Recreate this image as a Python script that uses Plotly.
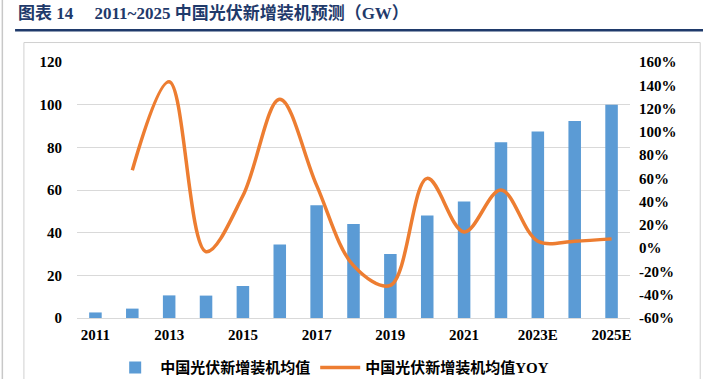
import plotly.graph_objects as go

years = ["2011", "2012", "2013", "2014", "2015", "2016", "2017", "2018",
         "2019", "2020", "2021", "2022", "2023E", "2024E", "2025E"]
capacity_gw = [2.6, 4.4, 10.6, 10.5, 15.0, 34.4, 52.8, 44.1,
               30.0, 48.0, 54.6, 82.4, 87.4, 92.4, 100.0]
yoy_pct = [None, 67, 143, -3, 45, 128, 54, -15,
           -32, 60, 14, 50, 6, 6, 8]
x_tick_labels = ["2011", "2013", "2015", "2017", "2019", "2021", "2023E", "2025E"]
left_ticks = [0, 20, 40, 60, 80, 100, 120]
right_ticks = [-60, -40, -20, 0, 20, 40, 60, 80, 100, 120, 140, 160]
right_tick_text = [f"{v}%" for v in right_ticks]

num_font = "Liberation Serif, Times New Roman, Noto Sans CJK SC, serif"
cjk_font = "Liberation Serif, Noto Sans CJK SC, serif"

fig = go.Figure()
fig.add_trace(go.Bar(
    x=years, y=capacity_gw, name="中国光伏新增装机均值",
    marker=dict(color="#5B9BD5", line=dict(width=0)),
    yaxis="y",
))
fig.add_trace(go.Scatter(
    x=years, y=yoy_pct, name="中国光伏新增装机均值YOY",
    mode="lines", line=dict(color="#ED7D31", width=3.5, shape="spline", smoothing=1.0),
    yaxis="y2", connectgaps=False,
))

tick_font = dict(family=num_font, size=15, color="#000000", weight="bold")

fig.update_layout(
    width=703, height=379,
    margin=dict(l=77, r=73, t=62, b=61, autoexpand=False),
    paper_bgcolor="white", plot_bgcolor="white",
    bargap=0.66,
    showlegend=True,
    legend=dict(orientation="h", x=0.06, xanchor="left", y=-0.13, yanchor="top",
                font=dict(family=cjk_font, size=15, color="#000000", weight="bold"),
                itemwidth=40, tracegroupgap=0, bgcolor="rgba(0,0,0,0)"),
    xaxis=dict(type="category", tickmode="array", tickvals=x_tick_labels,
               ticktext=x_tick_labels, showgrid=False, showline=False, ticks="",
               tickfont=tick_font, ticklabelstandoff=6, automargin=False),
    yaxis=dict(range=[0, 120], tickmode="array", tickvals=left_ticks,
               showgrid=True, gridcolor="#D9D9D9", gridwidth=1,
               zeroline=True, zerolinecolor="#D9D9D9", zerolinewidth=1,
               showline=False, ticks="", tickfont=tick_font,
               ticklabelstandoff=14, automargin=False),
    yaxis2=dict(range=[-60, 160], tickmode="array", tickvals=right_ticks,
                ticktext=right_tick_text, overlaying="y", side="right", showgrid=False,
                zeroline=False, showline=False, ticks="", tickfont=tick_font,
                ticklabelstandoff=8, automargin=False),
)

fig.add_annotation(
    text="图表 14\u2003 2011~2025 中国光伏新增装机预测（GW）",
    xref="paper", yref="paper", x=-0.11, y=1.0, xanchor="left", yanchor="bottom",
    yshift=37, showarrow=False,
    font=dict(family=cjk_font, size=17, color="#1F3A6B", weight="bold"),
)

# page frame lines (pixel positions converted to paper units: plot area x 77..630, y 62..318)
fig.add_shape(type="line", xref="paper", yref="paper", x0=-0.135, x1=-0.135, y0=-0.3, y1=1.3,
              line=dict(color="#C8C8C8", width=1.5))
fig.add_shape(type="line", xref="paper", yref="paper", x0=-0.112, x1=1.14, y0=1.124, y1=1.124,
              line=dict(color="#1F3A6B", width=2.5))
fig.add_shape(type="rect", xref="paper", yref="paper", x0=-0.096, x1=1.127, y0=-0.3, y1=1.076,
              line=dict(color="#D0D0D0", width=1), fillcolor="rgba(0,0,0,0)", layer="above")

fig.write_html("out.html", config={"displayModeBar": False},
               post_script="document.body.style.margin='0';document.body.style.overflow='hidden';")
